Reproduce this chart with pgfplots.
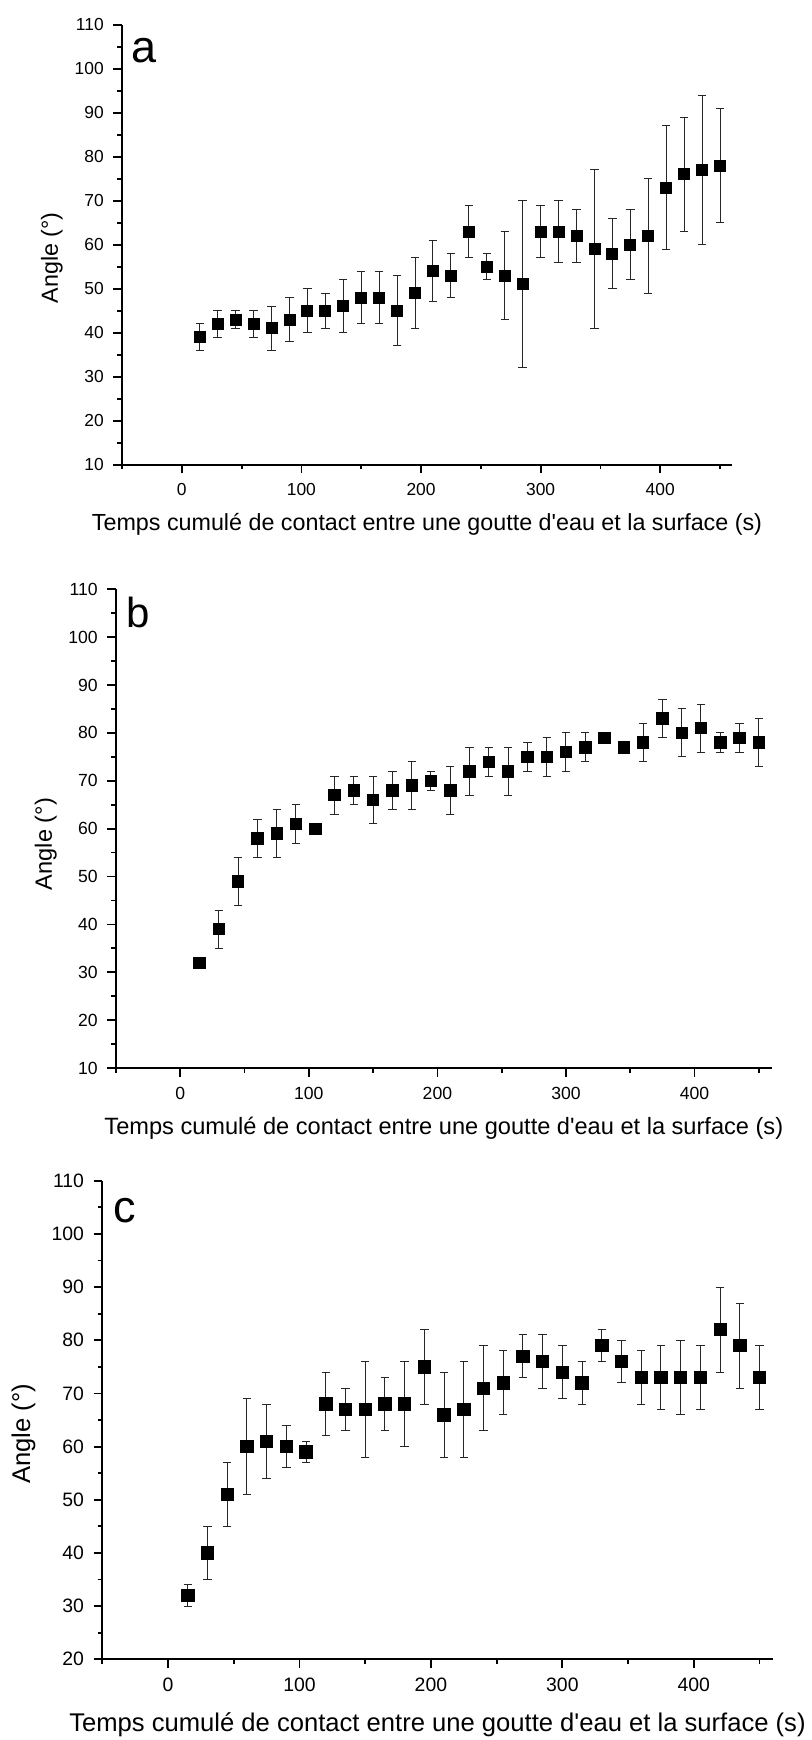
\documentclass[border=0pt]{standalone}
\usepackage{fontspec}
\setmainfont{Liberation Sans}[Ligatures=TeXOff]
\usepackage{pgfplots}
\usepackage{pgfplotstable}
\pgfplotsset{compat=1.18}

% t = temps (s), y = angle, e = ecart
\pgfplotstableread{
t y e
15 39 3
30 42 3
45 43 2
60 42 3
75 41 5
90 43 5
105 45 5
120 45 4
135 46 6
150 48 6
165 48 6
180 45 8
195 49 8
210 54 7
225 53 5
240 63 6
255 55 3
270 53 10
285 51 19
300 63 6
315 63 7
330 62 6
345 59 18
360 58 8
375 60 8
390 62 13
405 73 14
420 76 13
435 77 17
450 78 13
}\dataA
\pgfplotstableread{
t y e
15 32 0.5
30 39 4
45 49 5
60 58 4
75 59 5
90 61 4
105 60 0.5
120 67 4
135 68 3
150 66 5
165 68 4
180 69 5
195 70 2
210 68 5
225 72 5
240 74 3
255 72 5
270 75 3
285 75 4
300 76 4
315 77 3
330 79 1
345 77 1
360 78 4
375 83 4
390 80 5
405 81 5
420 78 2
435 79 3
450 78 5
}\dataB
\pgfplotstableread{
t y e
15 32 2
30 40 5
45 51 6
60 60 9
75 61 7
90 60 4
105 59 2
120 68 6
135 67 4
150 67 9
165 68 5
180 68 8
195 75 7
210 66 8
225 67 9
240 71 8
255 72 6
270 77 4
285 76 5
300 74 5
315 72 4
330 79 3
345 76 4
360 73 5
375 73 6
390 73 7
405 73 6
420 82 8
435 79 8
450 73 6
}\dataC

\pgfplotsset{panel/.style={scale only axis, anchor=south west,
    axis x line*=bottom, axis y line*=left,
    axis line style={line width=0.9pt, -},
    tick align=outside, major tick length=4.35pt, minor tick length=2.35pt,
    tick style={line width=0.9pt, black},
    xmin=-50, xmax=460, ymax=110,
    xtick={0,100,...,400}, minor xtick={-50,50,...,450}, minor y tick num=1,
    /pgf/number format/assume math mode=true,
    xticklabel style={yshift=-1.5pt}, yticklabel style={xshift=-1.25pt},
    ylabel={Angle (°)},
    xlabel={Temps cumulé de contact entre une goutte d'eau et la surface (s)},
    clip=false},
  pts/.style={only marks, mark=square*, black, mark size=#1,
    error bars/.cd, y dir=both, y explicit,
    error bar style={line width=0.5pt, black!85},
    error mark=-,
    error mark options={rotate=90, line width=0.5pt, mark size=2.1pt, black!85}}}

\begin{document}
\begin{tikzpicture}
\useasboundingbox (0,0) rectangle (405.5pt,-870pt);

\begin{axis}[panel, at={(61pt,-232.35pt)}, width=305pt, height=220pt,
    ymin=10, ytick={10,20,...,110},
    ticklabel style={font=\fontsize{8.7}{10}\selectfont},
    label style={font=\fontsize{11.65}{13}\selectfont},
    xlabel style={at={(axis description cs:0.5,-0.1348)}, anchor=center},
    ylabel style={at={(axis description cs:-0.1148,0.47)}, anchor=center}]
\addplot[pts=2.75pt] table[x=t, y=y, y error=e] {\dataA};
\end{axis}

\begin{axis}[panel, at={(58pt,-534pt)}, width=327.85pt, height=239.35pt,
    ymin=10, ytick={10,20,...,110},
    ticklabel style={font=\fontsize{8.8}{10}\selectfont},
    label style={font=\fontsize{11.8}{13}\selectfont},
    xlabel style={at={(axis description cs:0.5,-0.1253)}, anchor=center},
    ylabel style={at={(axis description cs:-0.1071,0.468)}, anchor=center}]
\addplot[pts=2.85pt] table[x=t, y=y, y error=e] {\dataB};
\end{axis}

\begin{axis}[panel, at={(51.15pt,-829.65pt)}, width=335.2pt, height=239.3pt,
    ymin=20, ytick={20,30,...,110},
    ticklabel style={font=\fontsize{9.7}{11}\selectfont},
    label style={font=\fontsize{12.8}{14}\selectfont},
    xlabel style={at={(axis description cs:0.5,-0.1373)}, anchor=center},
    ylabel style={at={(axis description cs:-0.1177,0.471)}, anchor=center}]
\addplot[pts=3.1pt] table[x=t, y=y, y error=e] {\dataC};
\end{axis}

\node[anchor=base west, inner sep=0, font=\fontsize{22.5}{24}\selectfont] at (65.65pt,-31pt) {a};
\node[anchor=base west, inner sep=0, font=\fontsize{21}{23}\selectfont] at (63.1pt,-313.5pt) {b};
\node[anchor=base west, inner sep=0, font=\fontsize{22.5}{24}\selectfont] at (56.6pt,-611pt) {c};
\end{tikzpicture}
\end{document}
